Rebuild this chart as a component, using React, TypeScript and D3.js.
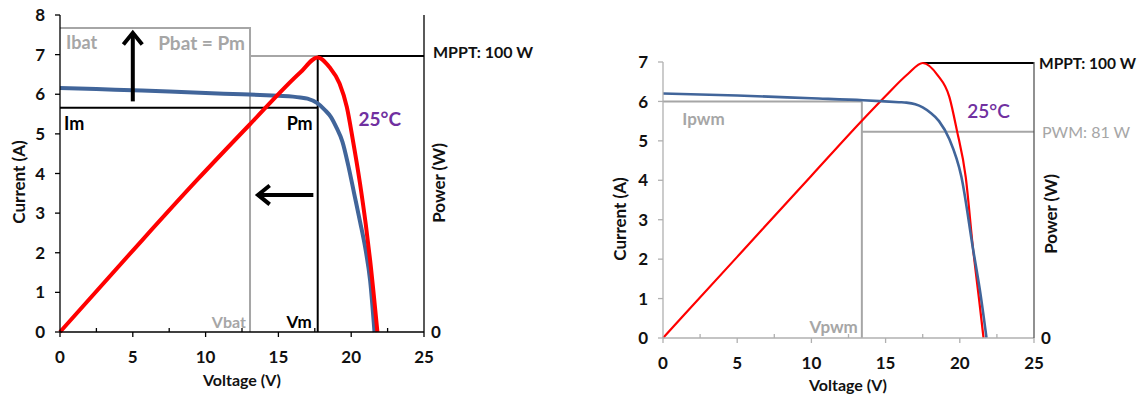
import * as d3 from 'd3';

// ---- left panel: MPPT operating point ----
const leftIvVoltage = [0, 2.5, 5, 7.5, 10, 12.5, 15, 16, 16.5, 17, 17.65, 18.2, 18.6, 19.0, 19.4, 19.8, 20.2, 20.6, 21.0, 21.3, 21.6];
const leftIvCurrent = [6.16, 6.13, 6.1, 6.07, 6.03, 6.0, 5.96, 5.94, 5.92, 5.89, 5.78, 5.6, 5.43, 5.15, 4.8, 4.2, 3.5, 2.8, 2.05, 1.3, 0];
const leftPvVoltage = [0, 5, 9.4, 13, 16.5, 17.7, 18.5, 19.2, 19.7, 20.1, 20.6, 21.0, 21.3, 21.8];
const leftPvPower = [0, 29.5, 55, 75, 94, 99.5, 96, 90, 81.5, 70, 54, 39, 26, 0];

// ---- right panel: PWM operating point ----
const rightIvVoltage = [0, 5, 10, 13.5, 15.9, 16.4, 17, 17.5, 18, 18.6, 19.3, 20.1, 20.9, 21.4, 21.8];
const rightIvCurrent = [6.2, 6.15, 6.08, 6.03, 5.98, 5.97, 5.93, 5.85, 5.72, 5.5, 5.04, 4.1, 2.24, 1.1, 0];
const rightPvVoltage = [0, 5, 10, 13.4, 15, 16.5, 17.5, 18.5, 19.3, 19.8, 20.4, 20.9, 21.3, 21.6];
const rightPvPower = [0, 29.5, 59, 79, 88, 96, 100, 95.6, 87.6, 75.6, 58.5, 32, 14, 0];

const voltageTicks = [0, 5, 10, 15, 20, 25];
const voltageMinorTicks = [2.5, 7.5, 12.5, 17.5, 22.5];
const leftCurrentTicks = [0, 1, 2, 3, 4, 5, 6, 7, 8];
const rightCurrentTicks = [0, 1, 2, 3, 4, 5, 6, 7];

// operating points
const Vm = 17.7, Im = 5.66, Pm = 100;
const Vbat = 13.05, Ibat = 7.67;
const Vpwm = 13.4, Ipwm = 6.0, PpwmLine = 75;

const BLUE = '#41659a';
const RED = '#ff0000';
const GRAY = '#a6a6a6';
const PURPLE = '#7030a0';
const FONT = 'Lato, "Liberation Sans", sans-serif';

const zip = (xs: number[], ys: number[]) => xs.map((v, i) => [v, ys[i]] as [number, number]);

function Arrow({ x1, y1, x2, y2 }: { x1: number; y1: number; x2: number; y2: number }) {
  const a = Math.atan2(y2 - y1, x2 - x1);
  const h = 15, w = 0.68;
  const p1 = [x2 - h * Math.cos(a - w), y2 - h * Math.sin(a - w)];
  const p2 = [x2 - h * Math.cos(a + w), y2 - h * Math.sin(a + w)];
  return (
    <g stroke="#000" strokeWidth={4} fill="none" strokeLinecap="butt" strokeLinejoin="miter">
      <line x1={x1} y1={y1} x2={x2 - 2 * Math.cos(a)} y2={y2 - 2 * Math.sin(a)} />
      <polyline points={`${p1[0]},${p1[1]} ${x2},${y2} ${p2[0]},${p2[1]}`} />
    </g>
  );
}

function XAxis({ x, y0, color }: { x: d3.ScaleLinear<number, number>; y0: number; color: string }) {
  const [a, b] = x.range();
  return (
    <g>
      <line x1={a} x2={b} y1={y0} y2={y0} stroke={color} strokeWidth={1.3} />
      {voltageTicks.map(t => (
        <g key={t}>
          <line x1={x(t)} x2={x(t)} y1={y0} y2={y0 + 5} stroke={color} strokeWidth={1.3} />
          <text x={x(t)} y={y0 + 31} textAnchor="middle" fontSize={17} fontWeight="bold" fill="#111">{t}</text>
        </g>
      ))}
      {voltageMinorTicks.map(t => (
        <line key={t} x1={x(t)} x2={x(t)} y1={y0} y2={y0 - 4} stroke={color} strokeWidth={1.3} />
      ))}
    </g>
  );
}

function YAxis({ y, x0, ticks, color }: { y: d3.ScaleLinear<number, number>; x0: number; ticks: number[]; color: string }) {
  const [a, b] = y.range();
  return (
    <g>
      <line x1={x0} x2={x0} y1={a} y2={b} stroke={color} strokeWidth={1.3} />
      {ticks.map(t => (
        <g key={t}>
          <line x1={x0 - 5} x2={x0} y1={y(t)} y2={y(t)} stroke={color} strokeWidth={1.3} />
          <text x={x0 - 15} y={y(t)} dy="0.36em" textAnchor="end" fontSize={17} fontWeight="bold" fill="#111">{t}</text>
        </g>
      ))}
    </g>
  );
}

function LeftPanel() {
  const x = d3.scaleLinear().domain([0, 25]).range([60, 424]);
  const y = d3.scaleLinear().domain([0, 8]).range([332, 15]);
  const p = d3.scaleLinear().domain([0, 100]).range([332, 56]);
  const ivLine = d3.line<[number, number]>().x(d => x(d[0])).y(d => y(d[1])).curve(d3.curveMonotoneX);
  const pvLine = d3.line<[number, number]>().x(d => x(d[0])).y(d => p(d[1])).curve(d3.curveMonotoneX);

  return (
    <g fontFamily={FONT}>
      {/* gray battery box */}
      <polyline points={`${x(0)},${y(Ibat)} ${x(Vbat)},${y(Ibat)} ${x(Vbat)},${y(0)}`} fill="none" stroke={GRAY} strokeWidth={2} />
      <line x1={x(Vbat)} x2={x(Vm)} y1={p(Pm)} y2={p(Pm)} stroke={GRAY} strokeWidth={2} />
      {/* black MPP lines */}
      <line x1={x(0)} x2={x(Vm)} y1={y(Im)} y2={y(Im)} stroke="#000" strokeWidth={2} />
      <line x1={x(Vm)} x2={x(Vm)} y1={p(Pm)} y2={y(0)} stroke="#000" strokeWidth={2} />
      <line x1={x(Vm)} x2={x(25)} y1={p(Pm)} y2={p(Pm)} stroke="#000" strokeWidth={2} />

      <path d={ivLine(zip(leftIvVoltage, leftIvCurrent)) ?? ''} fill="none" stroke={BLUE} strokeWidth={4} />
      <path d={pvLine(zip(leftPvVoltage, leftPvPower)) ?? ''} fill="none" stroke={RED} strokeWidth={4} />

      <XAxis x={x} y0={y(0)} color="#000" />
      <YAxis y={y} x0={x(0)} ticks={leftCurrentTicks} color="#000" />
      <line x1={x(25)} x2={x(25)} y1={y(0)} y2={y(8)} stroke="#000" strokeWidth={1.3} />
      <text x={x(25) + 7} y={p(0)} dy="0.36em" fontSize={17} fontWeight="bold" fill="#111">0</text>
      <text x={x(25) + 9} y={p(Pm) - 4} dy="0.36em" fontSize={16} fontWeight="bold" fill="#111">MPPT: 100 W</text>

      <Arrow x1={x(5)} y1={y(5.82)} x2={x(5)} y2={y(7.55)} />
      <Arrow x1={x(17.4)} y1={y(3.46)} x2={x(13.6)} y2={y(3.46)} />

      <text x={x(0) + 6} y={y(7.3)} dy="0.36em" fontSize={18} fontWeight="bold" fill={GRAY}>Ibat</text>
      <text x={x(Vbat) - 5} y={y(7.3)} dy="0.36em" textAnchor="end" fontSize={19} fontWeight="bold" fill={GRAY}>Pbat = Pm</text>
      <text x={x(0) + 4} y={y(5.25)} dy="0.36em" fontSize={18} fontWeight="bold" fill="#000">Im</text>
      <text x={x(Vm) - 5} y={y(5.25)} dy="0.36em" textAnchor="end" fontSize={18} fontWeight="bold" fill="#000">Pm</text>
      <text x={x(20.5)} y={y(5.38)} dy="0.36em" fontSize={19} fontWeight="bold" fill={PURPLE}>25°C</text>
      <text x={x(Vbat) - 4} y={y(0.25)} dy="0.36em" textAnchor="end" fontSize={16} fontWeight="bold" fill={GRAY}>Vbat</text>
      <text x={x(Vm) - 6} y={y(0.25)} dy="0.36em" textAnchor="end" fontSize={17} fontWeight="bold" fill="#000">Vm</text>

      <text x={242} y={386} textAnchor="middle" fontSize={16} fontWeight="bold" fill="#111">Voltage (V)</text>
      <text transform="translate(19,182) rotate(-90)" dy="0.36em" textAnchor="middle" fontSize={17} fontWeight="bold" fill="#111">Current (A)</text>
      <text transform="translate(439,183) rotate(-90)" dy="0.36em" textAnchor="middle" fontSize={17} fontWeight="bold" fill="#111">Power (W)</text>
    </g>
  );
}

function RightPanel() {
  const x = d3.scaleLinear().domain([0, 25]).range([663, 1034]);
  const y = d3.scaleLinear().domain([0, 7]).range([338, 62]);
  const p = d3.scaleLinear().domain([0, 100]).range([338, 63]);
  const ivLine = d3.line<[number, number]>().x(d => x(d[0])).y(d => y(d[1])).curve(d3.curveMonotoneX);
  const pvLine = d3.line<[number, number]>().x(d => x(d[0])).y(d => p(d[1])).curve(d3.curveMonotoneX);

  return (
    <g fontFamily={FONT}>
      <line x1={x(0)} x2={x(Vpwm)} y1={y(Ipwm)} y2={y(Ipwm)} stroke={GRAY} strokeWidth={2} />
      <line x1={x(Vpwm)} x2={x(Vpwm)} y1={y(Ipwm)} y2={y(0)} stroke={GRAY} strokeWidth={2} />
      <line x1={x(Vpwm)} x2={x(25)} y1={p(PpwmLine)} y2={p(PpwmLine)} stroke={GRAY} strokeWidth={2} />
      <line x1={x(17.5)} x2={x(25)} y1={p(100)} y2={p(100)} stroke="#000" strokeWidth={2} />

      <path d={pvLine(zip(rightPvVoltage, rightPvPower)) ?? ''} fill="none" stroke={RED} strokeWidth={2.2} />
      <path d={ivLine(zip(rightIvVoltage, rightIvCurrent)) ?? ''} fill="none" stroke={BLUE} strokeWidth={2.6} />

      <XAxis x={x} y0={y(0)} color="#b0b0b0" />
      <YAxis y={y} x0={x(0)} ticks={rightCurrentTicks} color="#b0b0b0" />
      <line x1={x(25)} x2={x(25)} y1={y(0)} y2={y(7)} stroke="#555" strokeWidth={1.3} />
      <text x={x(25) + 7} y={p(0)} dy="0.36em" fontSize={17} fontWeight="bold" fill="#111">0</text>
      <text x={x(25) + 5} y={p(100)} dy="0.36em" fontSize={15.5} fontWeight="bold" fill="#111">MPPT: 100 W</text>
      <text x={x(25) + 8} y={p(PpwmLine)} dy="0.36em" fontSize={16} fill={GRAY}>PWM: 81 W</text>

      <text x={x(1.3)} y={y(5.55)} dy="0.36em" fontSize={17} fontWeight="bold" fill={GRAY}>Ipwm</text>
      <text x={x(20.5)} y={y(5.75)} dy="0.36em" fontSize={19} fontWeight="600" fill={PURPLE}>25°C</text>
      <text x={x(Vpwm) - 4} y={y(0.28)} dy="0.36em" textAnchor="end" fontSize={17} fontWeight="bold" fill={GRAY}>Vpwm</text>

      <text x={848} y={391} textAnchor="middle" fontSize={16} fontWeight="bold" fill="#111">Voltage (V)</text>
      <text transform="translate(620,219) rotate(-90)" dy="0.36em" textAnchor="middle" fontSize={17} fontWeight="bold" fill="#111">Current (A)</text>
      <text transform="translate(1051,214) rotate(-90)" dy="0.36em" textAnchor="middle" fontSize={17} fontWeight="bold" fill="#111">Power (W)</text>
    </g>
  );
}

export default function App() {
  return (
    <svg width={1144} height={396} style={{ position: 'absolute', left: 0, top: 0, background: '#fff' }}>
      <LeftPanel />
      <RightPanel />
    </svg>
  );
}
